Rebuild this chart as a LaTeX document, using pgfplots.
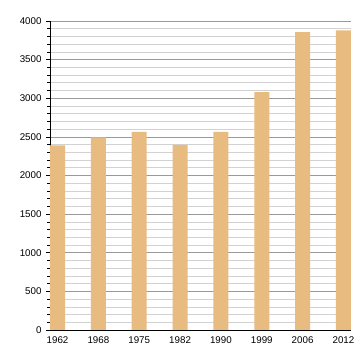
\documentclass[border=0pt]{standalone}
\usepackage{pgfplots}
\pgfplotsset{compat=1.18}
\usepackage{fontspec}
\setmainfont{Liberation Sans}
\definecolor{bartan}{HTML}{E8BB80}
\begin{document}
\begin{tikzpicture}
\begin{axis}[
  at={(0,0)}, anchor=south west,
  scale only axis,
  width=301bp, height=309bp,
  xmin=-0.185, xmax=7.185,
  ymin=0, ymax=4000,
  axis lines*=left,
  axis line style={black, line width=0.9pt, -},
  xtick={0,1,2,3,4,5,6,7},
  xticklabels={1962,1968,1975,1982,1990,1999,2006,2012},
  x tick style={draw=none},
  ytick={0,500,1000,1500,2000,2500,3000,3500,4000},
  minor y tick num=4,
  ymajorgrids, yminorgrids,
  major grid style={draw=gray!80, line width=0.6pt},
  minor grid style={draw=gray!35, line width=0.6pt},
  y tick style={black, line width=0.6pt},
  major tick length=4bp, minor tick length=2.5bp,
  tick align=outside,
  tick label style={font=\fontsize{9.8}{11}\selectfont},
  /pgf/number format/assume math mode=true,
  /pgf/number format/1000 sep={},
  xticklabel style={yshift=0.5bp},
  yticklabel style={xshift=-1bp},
]
\addplot[ybar, bar width=15bp, fill=bartan, draw=none, bar shift=0pt]
  coordinates {(0,2390) (1,2495) (2,2565) (3,2395) (4,2565) (5,3080) (6,3855) (7,3880)};
\draw[black, line width=0.9pt] (axis cs:-0.185,0) -- (axis cs:7.185,0);
\end{axis}
\path (-50bp,-30bp) rectangle (310bp,330bp);
\end{tikzpicture}
\end{document}
